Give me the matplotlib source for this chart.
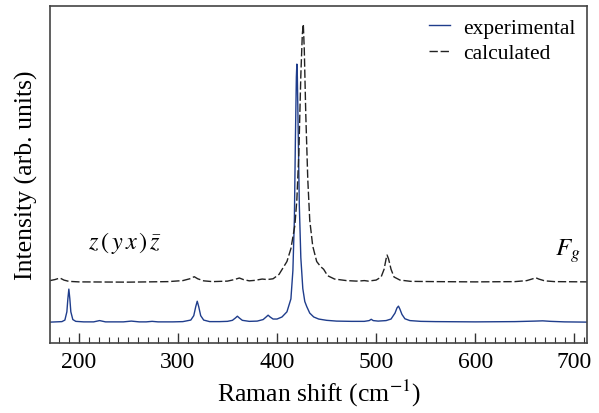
import matplotlib
matplotlib.use('Agg')
import matplotlib.pyplot as plt
from matplotlib.ticker import MultipleLocator

plt.rcParams['font.family'] = ['Liberation Serif', 'DejaVu Serif']
plt.rcParams['mathtext.fontset'] = 'stix'
plt.rcParams['font.size'] = 15

# experimental spectrum, points (normalised to main peak)
exp_x = [171, 183, 186, 188, 189, 190, 191, 192, 194, 197, 205, 215, 221, 227,
         245, 253, 261, 268, 274, 280, 295, 305, 313, 316, 318, 319.5, 321, 323,
         326, 332, 342, 350, 355, 358, 360, 362, 365, 372, 380, 386, 389, 391,
         393, 396, 400, 405, 410, 414, 416, 417.5, 418.5, 419.5, 420, 420.5,
         421.5, 422.5, 424, 426, 428, 430, 433, 437, 442, 450, 460, 475, 488,
         493, 495, 497, 502, 510, 515, 519, 521, 522.5, 524, 526, 529, 534, 545,
         560, 600, 640, 660, 668, 676, 690, 713]
exp_y = [0.0, 0.002, 0.008, 0.04, 0.09, 0.128, 0.09, 0.04, 0.01, 0.003, 0.001,
         0.001, 0.006, 0.001, 0.001, 0.004, 0.001, 0.001, 0.003, 0.001, 0.001,
         0.002, 0.008, 0.025, 0.06, 0.081, 0.06, 0.025, 0.008, 0.002, 0.002,
         0.003, 0.007, 0.016, 0.023, 0.016, 0.007, 0.003, 0.004, 0.01, 0.02,
         0.027, 0.02, 0.012, 0.012, 0.02, 0.04, 0.09, 0.2, 0.4, 0.7, 0.95, 1.0,
         0.95, 0.7, 0.45, 0.25, 0.13, 0.08, 0.06, 0.035, 0.02, 0.012, 0.007,
         0.004, 0.003, 0.003, 0.006, 0.011, 0.006, 0.004, 0.006, 0.012, 0.035,
         0.055, 0.062, 0.05, 0.03, 0.013, 0.006, 0.003, 0.002, 0.001, 0.002,
         0.004, 0.005, 0.003, 0.001, 0.0]

# calculated spectrum (drawn with a vertical offset)
calc_x = [171, 176, 181, 185, 190, 200, 250, 290, 305, 312, 316.5, 320, 326,
          335, 350, 357, 362, 366, 372, 378, 385, 390, 396, 402, 406, 410, 414,
          418, 420, 422, 424, 425.5, 426.5, 427.5, 429, 431, 433, 436, 440, 444,
          447, 451, 458, 470, 480, 485, 488, 492, 500, 505, 508, 510, 511,
          512.5, 515, 518, 524, 535, 560, 600, 640, 652, 658, 661, 664, 670,
          680, 713]
calc_y = [0.006, 0.01, 0.016, 0.008, 0.003, 0.001, 0.0, 0.002, 0.006, 0.013,
          0.021, 0.013, 0.005, 0.002, 0.004, 0.01, 0.016, 0.01, 0.005, 0.007,
          0.012, 0.01, 0.013, 0.03, 0.055, 0.08, 0.13, 0.22, 0.32, 0.5, 0.8,
          0.96, 1.0, 0.9, 0.65, 0.4, 0.24, 0.14, 0.08, 0.06, 0.05, 0.025,
          0.012, 0.006, 0.004, 0.005, 0.006, 0.004, 0.008, 0.02, 0.05, 0.09,
          0.105, 0.09, 0.05, 0.02, 0.008, 0.003, 0.002, 0.001, 0.002, 0.006,
          0.013, 0.017, 0.012, 0.005, 0.002, 0.001]
calc_offset = 0.155

fig = plt.figure(figsize=(5.99, 4.14), dpi=100)
ax = fig.add_axes([0.0835, 0.169, 0.897, 0.814])

ax.plot(exp_x, exp_y, color='#1f3d8c', lw=1.0, label='experimental')
ax.plot(calc_x, [v + calc_offset for v in calc_y], color='#222222', lw=1.0,
        dashes=(6, 2), label='calculated')

ax.set_xlim(171, 713)
ax.set_ylim(-0.081, 1.225)
ax.set_yticks([])
ax.xaxis.set_major_locator(MultipleLocator(100))
ax.xaxis.set_minor_locator(MultipleLocator(10))
ax.tick_params(axis='x', which='major', direction='in', length=7, width=1.0,
               colors='#333333', labelcolor='black', labelsize=17, pad=6)
ax.tick_params(axis='x', which='minor', direction='in', length=4, width=0.8,
               colors='#333333')
for s in ax.spines.values():
    s.set_color('#444444')
    s.set_linewidth(1.2)

ax.set_xlabel(r'Raman shift (cm$^{-1}$)', fontsize=18.5, labelpad=3)
ax.set_ylabel('Intensity (arb. units)', fontsize=18.5, labelpad=9)

ax.text(0.14, 0.30, r'$z\,(\,y\,x\,)\,\bar{z}$', transform=ax.transAxes,
        ha='center', va='center', fontsize=17.5)
ax.text(0.987, 0.275, r'$F_g$', transform=ax.transAxes, ha='right',
        va='center', fontsize=18)

ax.legend(loc='upper right', frameon=False, handlelength=1.0, fontsize=15.5,
          handletextpad=0.6, borderaxespad=0.15, labelspacing=0.25)

fig.savefig('out.png', dpi=100)
